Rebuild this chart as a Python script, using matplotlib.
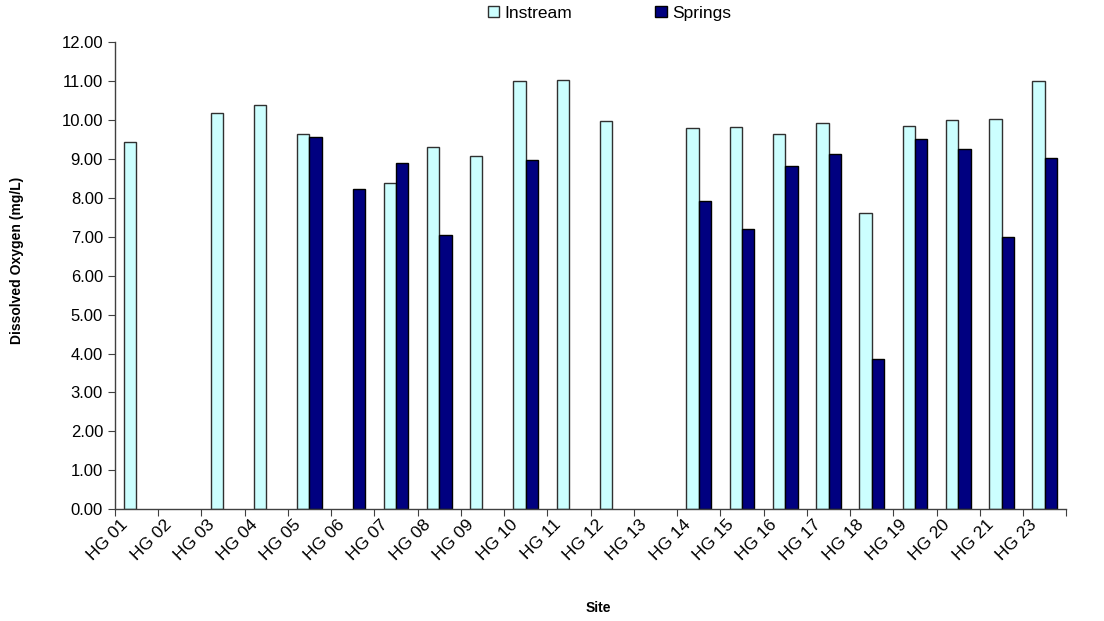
import numpy as np
import matplotlib
matplotlib.use("Agg")
import matplotlib.pyplot as plt
import matplotlib.transforms as mtransforms

plt.rcParams['font.family'] = ['Liberation Sans', 'DejaVu Sans']

sites = ["HG 01", "HG 02", "HG 03", "HG 04", "HG 05", "HG 06", "HG 07", "HG 08",
         "HG 09", "HG 10", "HG 11", "HG 12", "HG 13", "HG 14", "HG 15", "HG 16",
         "HG 17", "HG 18", "HG 19", "HG 20", "HG 21", "HG 23"]
nan = np.nan
instream = [9.44, nan, 10.17, 10.38, 9.65, nan, 8.38, 9.31, 9.07, 11.00, 11.03, 9.97,
            nan, 9.79, 9.83, 9.65, 9.93, 7.62, 9.86, 10.00, 10.03, 11.00]
springs = [nan, nan, nan, nan, 9.56, 8.24, 8.90, 7.04, nan, 8.97, nan, nan,
           nan, 7.93, 7.21, 8.83, 9.14, 3.87, 9.52, 9.25, 7.00, 9.03]
yticks = [0, 1, 2, 3, 4, 5, 6, 7, 8, 9, 10, 11, 12]

fig = plt.figure(figsize=(11.04, 6.21), dpi=100)
ax = fig.add_axes([0.104, 0.180, 0.862, 0.752])

x = np.arange(len(sites))
w = 1 / 3.5
ax.bar(x - w / 2, instream, width=w, color="#CCFFFF", edgecolor="#303030",
       linewidth=1.0, label="Instream")
ax.bar(x + w / 2, springs, width=w, color="#000080", edgecolor="#000000",
       linewidth=1.0, label="Springs")

ax.set_xlim(-0.5, len(sites) - 0.5)
ax.set_ylim(0, 12)
ax.set_yticks(yticks)
ax.set_yticklabels([f"{v:.2f}" for v in yticks], fontsize=12)

# tick marks sit on the category boundaries
ax.set_xticks(np.arange(len(sites) + 1) - 0.5)
ax.set_xticklabels([])
ax.tick_params(axis="x", length=5, direction="out", color="#404040")
ax.tick_params(axis="y", length=5, direction="out", color="#404040")

# slanted site names hanging below each category
base = mtransforms.blended_transform_factory(ax.transData, ax.transAxes)
shift = mtransforms.ScaledTranslation(-16 / 100, -8 / 100, fig.dpi_scale_trans)
for xi, name in zip(x, sites):
    ax.text(xi, 0, name, transform=base + shift, rotation=45, ha="right",
            va="top", rotation_mode="anchor", fontsize=12.5)

for s in ["top", "right"]:
    ax.spines[s].set_visible(False)
for s in ["left", "bottom"]:
    ax.spines[s].set_color("#404040")
    ax.spines[s].set_linewidth(1.0)

fig.text(0.0154, 0.580, "Dissolved Oxygen (mg/L)", rotation=90, ha="center",
         va="center", fontsize=10, fontweight="bold")
fig.text(0.542, 0.021, "Site", ha="center", va="center", fontsize=10,
         fontweight="bold")

leg = fig.legend(*ax.get_legend_handles_labels(), loc="center",
                 bbox_to_anchor=(0.552, 0.979), ncol=2, frameon=False,
                 fontsize=12.5, handlelength=0.65, handleheight=0.65,
                 handletextpad=0.3, columnspacing=4.8, borderaxespad=0)

fig.savefig("out.png", dpi=100)
